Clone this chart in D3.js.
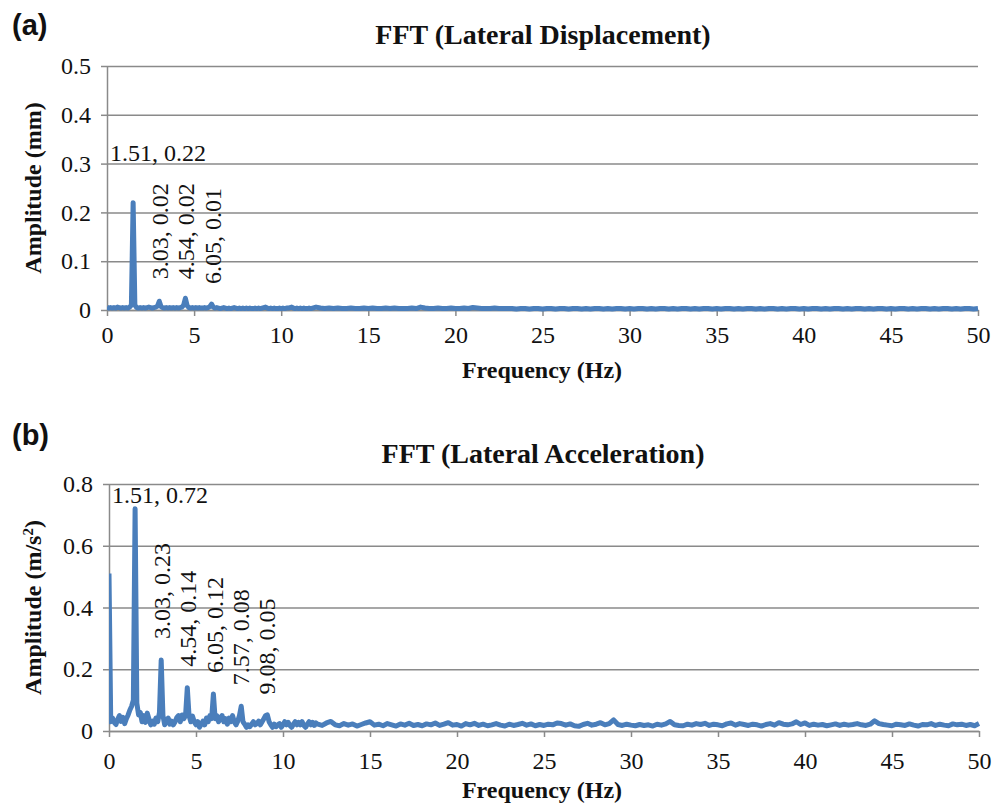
<!DOCTYPE html>
<html lang="en">
<head>
<meta charset="utf-8">
<title>FFT</title>
<script src="https://cdn.jsdelivr.net/npm/d3@7/dist/d3.min.js"></script>
<style>
  body { margin: 0; background: #fff; }
  text { font-family: "Liberation Serif", "Times New Roman", serif; fill: #111; }
  .grid line { stroke: #8a8a8a; stroke-width: 1.5; }
  .grid path { display: none; }
  .axis path, .axis line { stroke: #8a8a8a; stroke-width: 1.5; }
  .axis text { font-size: 24px; font-family: "Liberation Serif", "Times New Roman", serif; }
  .title { font-size: 28px; font-weight: bold; }
  .axtitle { font-size: 24px; font-weight: bold; }
  .panel { font-family: "Liberation Sans", Arial, sans-serif; font-size: 29px; font-weight: bold; }
  .note { font-size: 24px; }
  .spec { fill: none; stroke: #4a7ebb; stroke-width: 5; stroke-linejoin: round; }
</style>
</head>
<body>
<div id="chart"></div>
<script>
// frequency grid (Hz): 0.1 Hz steps up to 12 Hz, then 0.25 Hz steps to 50 Hz
var freq = d3.range(0, 12, 0.1).concat(d3.range(12, 50.001, 0.25));

// lateral displacement amplitude (mm)
var dispAmp = [
  0.006, 0.004, 0.005, 0.004, 0.005, 0.004, 0.006, 0.005, 0.004, 0.005,
  0.004, 0.005, 0.004, 0.006, 0.010, 0.220, 0.010, 0.005, 0.004, 0.005,
  0.004, 0.005, 0.004, 0.005, 0.006, 0.005, 0.004, 0.005, 0.006, 0.008,
  0.018, 0.007, 0.005, 0.004, 0.005, 0.004, 0.005, 0.004, 0.005, 0.004,
  0.005, 0.004, 0.005, 0.006, 0.010, 0.024, 0.009, 0.005, 0.004, 0.005,
  0.004, 0.005, 0.004, 0.005, 0.004, 0.004, 0.005, 0.004, 0.005, 0.007,
  0.012, 0.006, 0.004, 0.005, 0.004, 0.003, 0.004, 0.005, 0.004, 0.003,
  0.004, 0.003, 0.004, 0.005, 0.004, 0.003, 0.004, 0.003, 0.004, 0.003,
  0.004, 0.003, 0.004, 0.003, 0.003, 0.004, 0.003, 0.004, 0.003, 0.004,
  0.005, 0.006, 0.004, 0.003, 0.004, 0.003, 0.004, 0.003, 0.003, 0.004,
  0.003, 0.004, 0.003, 0.004, 0.004, 0.005, 0.006, 0.004, 0.003, 0.004,
  0.003, 0.004, 0.003, 0.004, 0.003, 0.003, 0.004, 0.003, 0.004, 0.005,
  // 12 Hz onwards
  0.006, 0.004, 0.003, 0.004,  0.003, 0.004, 0.003, 0.003,  0.004, 0.003, 0.003, 0.004,
  0.003, 0.004, 0.003, 0.003,  0.004, 0.003, 0.004, 0.003,  0.003, 0.003, 0.004, 0.003,
  0.006, 0.004, 0.003, 0.003,  0.004, 0.003, 0.003, 0.004,  0.003, 0.003, 0.004, 0.003,
  0.005, 0.004, 0.003, 0.003,  0.003, 0.004, 0.003, 0.003,  0.003, 0.003, 0.002, 0.003,
  0.003, 0.002, 0.003, 0.003,  0.002, 0.003, 0.003, 0.002,  0.003, 0.003, 0.002, 0.003,
  0.003, 0.002, 0.003, 0.002,  0.003, 0.003, 0.002, 0.003,  0.002, 0.003, 0.003, 0.002,
  0.003, 0.002, 0.003, 0.003,  0.002, 0.003, 0.002, 0.003,  0.003, 0.002, 0.003, 0.002,
  0.003, 0.003, 0.002, 0.003,  0.002, 0.003, 0.003, 0.002,  0.003, 0.002, 0.003, 0.003,
  0.002, 0.003, 0.002, 0.003,  0.003, 0.002, 0.003, 0.002,  0.003, 0.003, 0.002, 0.003,
  0.002, 0.003, 0.003, 0.002,  0.003, 0.002, 0.003, 0.003,  0.002, 0.003, 0.002, 0.003,
  0.003, 0.002, 0.003, 0.002,  0.003, 0.003, 0.002, 0.003,  0.002, 0.003, 0.003, 0.002,
  0.003, 0.002, 0.003, 0.003,  0.002, 0.003, 0.002, 0.003,  0.003, 0.002, 0.003, 0.002,
  0.003, 0.003, 0.002, 0.003,  0.002, 0.003, 0.003, 0.002,
  0.003
];

// lateral acceleration amplitude (m/s2)
var accAmp = [
  0.510, 0.030, 0.042, 0.028, 0.021, 0.038, 0.050, 0.031, 0.044, 0.024,
  0.040, 0.052, 0.068, 0.080, 0.100, 0.720, 0.090, 0.052, 0.060, 0.030,
  0.050, 0.028, 0.058, 0.038, 0.020, 0.032, 0.022, 0.042, 0.030, 0.060,
  0.230, 0.050, 0.020, 0.030, 0.042, 0.022, 0.032, 0.020, 0.030, 0.044,
  0.050, 0.030, 0.052, 0.040, 0.050, 0.140, 0.050, 0.030, 0.048, 0.030,
  0.020, 0.030, 0.012, 0.022, 0.032, 0.020, 0.042, 0.030, 0.050, 0.040,
  0.120, 0.040, 0.050, 0.030, 0.042, 0.050, 0.030, 0.040, 0.022, 0.042,
  0.030, 0.050, 0.030, 0.020, 0.032, 0.050, 0.080, 0.030, 0.022, 0.012,
  0.020, 0.014, 0.022, 0.030, 0.020, 0.024, 0.032, 0.020, 0.030, 0.040,
  0.050, 0.052, 0.030, 0.020, 0.012, 0.022, 0.014, 0.020, 0.024, 0.012,
  0.020, 0.030, 0.020, 0.028, 0.018, 0.012, 0.022, 0.030, 0.020, 0.028,
  0.020, 0.030, 0.018, 0.012, 0.022, 0.030, 0.020, 0.028, 0.018, 0.026,
  // 12 Hz onwards
  0.022, 0.018, 0.026, 0.031,  0.020, 0.017, 0.024, 0.019,  0.023, 0.016, 0.021, 0.026,
  0.030, 0.019, 0.022, 0.017,  0.024, 0.020, 0.016, 0.023,  0.019, 0.025, 0.018, 0.021,
  0.017, 0.023, 0.020, 0.026,  0.018, 0.022, 0.027, 0.019,  0.021, 0.016, 0.024, 0.020,
  0.025, 0.018, 0.022, 0.017,  0.020, 0.024, 0.019, 0.016,  0.022, 0.018, 0.021, 0.025,
  0.019, 0.023, 0.017, 0.021,  0.018, 0.022, 0.020, 0.026,  0.024, 0.019, 0.023, 0.017,
  0.015, 0.021, 0.025, 0.019,  0.022, 0.027, 0.020, 0.024,  0.036, 0.021, 0.018, 0.022,
  0.019, 0.017, 0.021, 0.018,  0.020, 0.016, 0.022, 0.019,  0.023, 0.031, 0.020, 0.018,
  0.017, 0.022, 0.019, 0.024,  0.021, 0.025, 0.018, 0.022,  0.020, 0.017, 0.023, 0.026,
  0.019, 0.024, 0.021, 0.018,  0.022, 0.020, 0.016, 0.021,  0.024, 0.019, 0.027, 0.022,
  0.020, 0.023, 0.030, 0.021,  0.026, 0.018, 0.022, 0.019,  0.021, 0.017, 0.020, 0.023,
  0.018, 0.022, 0.019, 0.021,  0.024, 0.020, 0.018, 0.022,  0.033, 0.024, 0.021, 0.019,
  0.017, 0.022, 0.020, 0.018,  0.023, 0.019, 0.016, 0.021,  0.020, 0.024, 0.018, 0.022,
  0.019, 0.017, 0.023, 0.020,  0.022, 0.018, 0.021, 0.017,
  0.024
];

// labelled peaks
var dispPeakF = [1.51, 3.03, 4.54, 6.05];
var dispPeakA = [0.22, 0.02, 0.02, 0.01];
var accPeakF = [1.51, 3.03, 4.54, 6.05, 7.57, 9.08];
var accPeakA = [0.72, 0.23, 0.14, 0.12, 0.08, 0.05];

var xTicks = d3.range(0, 51, 5);
var dispTicks = [0, 0.1, 0.2, 0.3, 0.4, 0.5];
var accTicks = [0, 0.2, 0.4, 0.6, 0.8];

var svg = d3.select("#chart").append("svg")
    .attr("width", 1006)
    .attr("height", 804);

function fmt(d) { return d === 0 ? "0" : d3.format(".1f")(d); }

function drawPanel(o) {
  var x = d3.scaleLinear().domain([0, 50]).range([o.left, o.right]);
  var y = d3.scaleLinear().domain([0, o.yTicks[o.yTicks.length - 1]]).range([o.bottom, o.top]);
  var g = svg.append("g");

  // horizontal gridlines
  g.append("g").attr("class", "grid")
      .attr("transform", "translate(" + o.left + ",0)")
      .call(d3.axisLeft(y).tickValues(o.yTicks).tickSize(-(o.right - o.left)).tickFormat(""));

  // y axis
  g.append("g").attr("class", "axis")
      .attr("transform", "translate(" + o.left + ",0)")
      .call(d3.axisLeft(y).tickValues(o.yTicks).tickSizeInner(6).tickSizeOuter(0).tickPadding(10).tickFormat(fmt));

  // x axis
  var xa = g.append("g").attr("class", "axis")
      .attr("transform", "translate(0," + o.bottom + ")")
      .call(d3.axisBottom(x).tickValues(xTicks).tickSizeInner(6).tickSizeOuter(0).tickFormat(d3.format("d")));
  xa.selectAll("text").attr("dy", null).attr("y", o.xLabelY);

  // spectrum, clipped at the y axis
  var clipId = "clip" + o.id;
  g.append("clipPath").attr("id", clipId)
    .append("rect")
      .attr("x", o.left).attr("y", 0)
      .attr("width", o.right - o.left + 3).attr("height", o.bottom + 3);
  var line = d3.line()
      .x(function(d, i) { return x(freq[i]); })
      .y(function(d) { return y(d); });
  g.append("path").attr("class", "spec")
      .attr("clip-path", "url(#" + clipId + ")")
      .attr("d", line(o.amp));

  // peak labels
  o.peakF.forEach(function(f, i) {
    var txt = f.toFixed(2) + ", " + o.peakA[i].toFixed(2);
    if (i === 0) {
      g.append("text").attr("class", "note")
          .attr("x", o.left + 3)
          .attr("y", y(o.peakA[i]) + o.firstDy)
          .text(txt);
    } else {
      var px = x(f), py = y(o.peakA[i]) - 21;
      g.append("text").attr("class", "note")
          .attr("transform", "translate(" + px + "," + py + ") rotate(-90)")
          .attr("dy", "0.35em")
          .text(txt);
    }
  });

  // titles
  g.append("text").attr("class", "title")
      .attr("x", 543).attr("y", o.titleY)
      .attr("text-anchor", "middle")
      .text(o.title);
  g.append("text").attr("class", "panel")
      .attr("x", 12).attr("y", o.panelY)
      .text(o.panel);
  g.append("text").attr("class", "axtitle")
      .attr("transform", "translate(41," + ((o.top + o.bottom) / 2) + ") rotate(-90)")
      .attr("text-anchor", "middle")
      .html(o.yTitle);
  g.append("text").attr("class", "axtitle")
      .attr("x", 542).attr("y", o.xTitleY)
      .attr("text-anchor", "middle")
      .text("Frequency (Hz)");
}

drawPanel({
  id: "a", left: 107, right: 978, top: 66, bottom: 310,
  yTicks: dispTicks, amp: dispAmp, peakF: dispPeakF, peakA: dispPeakA,
  firstDy: -42, xLabelY: 33, title: "FFT (Lateral Displacement)", titleY: 44,
  panel: "(a)", panelY: 35, yTitle: "Amplitude (mm)", xTitleY: 378
});

drawPanel({
  id: "b", left: 109, right: 979, top: 484, bottom: 731,
  yTicks: accTicks, amp: accAmp, peakF: accPeakF, peakA: accPeakA,
  firstDy: -6, xLabelY: 38, title: "FFT (Lateral Acceleration)", titleY: 463,
  panel: "(b)", panelY: 445, yTitle: "Amplitude (m/s<tspan dy='-8' font-size='15'>2</tspan><tspan dy='8'>)</tspan>", xTitleY: 798
});
</script>
</body>
</html>
